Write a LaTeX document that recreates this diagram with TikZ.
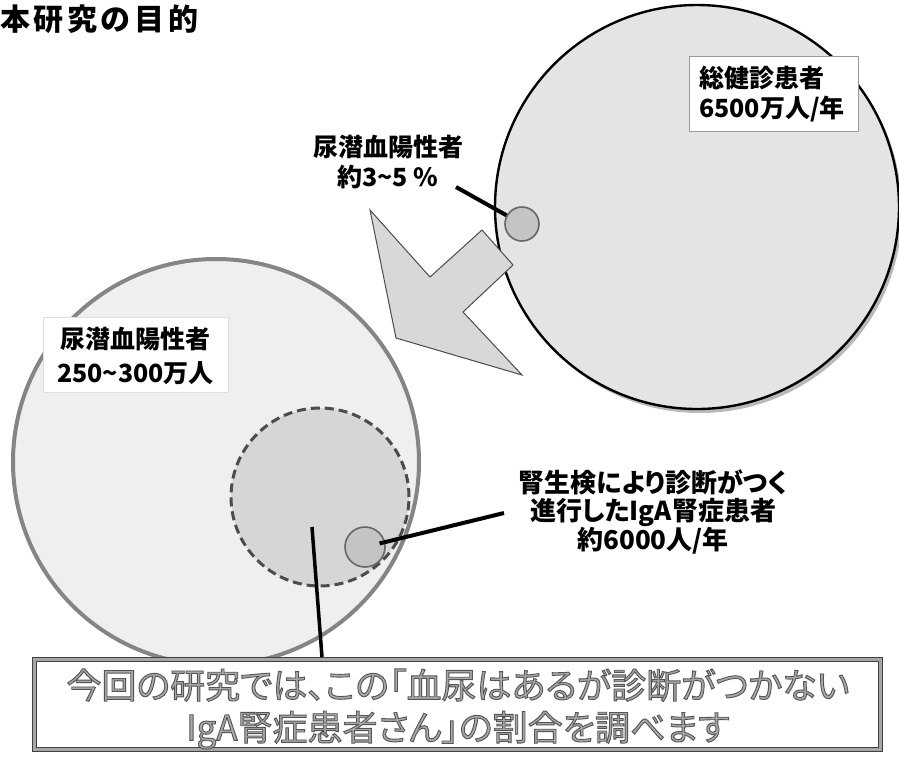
\documentclass[tikz,border=0pt]{standalone}
\usepackage{fontspec}
\newfontfamily\jp[RawFeature=+palt]{Noto Sans CJK JP}
\newfontfamily\jptitle[LetterSpace=12]{Noto Sans CJK JP}
\usetikzlibrary{shapes.geometric,calc}
\definecolor{fillR}{HTML}{E4E4E4}
\definecolor{fillL}{HTML}{EFEFEF}
\definecolor{edgeL}{HTML}{858585}
\definecolor{dashfill}{HTML}{D6D6D6}
\definecolor{smallfill}{HTML}{C4C4C4}
\definecolor{arrowfill}{HTML}{D8D8D8}
\definecolor{boxtext}{HTML}{A8A8A8}
\newcommand{\outlinetext}[1]{\special{pdf:literal direct 0.33 0.33 0.33 RG 0.9 w 2 Tr}#1\special{pdf:literal direct 0 Tr}}
\tikzset{
  labeltext/.style={font=\jp\bfseries\fontsize{25}{30}\selectfont, align=center, inner sep=0pt},
  labelbox/.style={fill=white, inner sep=0pt},
  smallcirc/.style={circle, fill=smallfill, draw=gray!80!black, line width=1.6pt, inner sep=0pt},
  lead/.style={line width=4pt, black},
  bigarrow/.style={fill=arrowfill, draw=black!70, line width=1pt, line join=miter},
}
\begin{document}
\begin{tikzpicture}[x=1pt,y=-1pt]
\useasboundingbox (0,0) rectangle (899,756);
\fill[white] (0,0) rectangle (899,756);

% title
\node[anchor=west, inner sep=0pt, font=\jptitle\bfseries\fontsize{30}{32}\selectfont] (title) at (0,19) {本研究の目的};

% right big circle (all health check-up patients)
\fill[gray!55] (700,211) circle [radius=202];
\node[circle, draw=black, line width=2.4pt, fill=fillR, minimum size=404pt, inner sep=0pt] (total) at (697,207) {};
\node[labelbox, draw=gray!80, line width=1pt, anchor=north west, minimum width=169pt, minimum height=75pt] (totalbox) at (689,56) {};
\node[labeltext, align=left, anchor=west] (totallbl) at (699,94) {総健診患者\\6500万人/年};

% left big circle (hematuria positive)
\node[circle, draw=edgeL, line width=4pt, fill=fillL, minimum size=406pt, inner sep=0pt] (hema) at (216,462) {};
\node[labelbox, draw=gray!25, line width=0.8pt, minimum width=185pt, minimum height=75pt] (hemabox) at (135.5,354.5) {};
\node[labeltext, font=\jp\bfseries\fontsize{25}{34}\selectfont] (hemalbl) at (135.5,356) {尿潜血陽性者\\250\textasciitilde300万人};

% dashed circle (undiagnosed IgA nephropathy)
\node[circle, draw=black!70, dash pattern=on 9pt off 5pt, line width=3pt, fill=dashfill, minimum size=178pt, inner sep=0pt] (undiag) at (320,497) {};

% small circle: diagnosed advanced IgA nephropathy
\node[smallcirc, minimum size=40pt] (diag) at (365,547) {};

% big arrow
\filldraw[bigarrow] (370,210) -- (430,277) -- (482,230) -- (513,265) -- (463,312) -- (522,375) -- (396,338) -- cycle;

% small circle on right big circle
\node[smallcirc, minimum size=34pt] (posR) at (522,224) {};

% labels
\node[labeltext] (poslbl) at (388,162) {尿潜血陽性者\\約3\textasciitilde5 \%};
\node[labeltext, font=\jp\bfseries\fontsize{26}{28}\selectfont] (diaglbl) at (653,512) {腎生検により診断がつく\\進行したIgA腎症患者\\約6000人/年};

% leader lines
\coordinate (a1) at (456,187);
\draw[lead] (a1) -- (posR);
\coordinate (b1) at (504,513);
\draw[lead, shorten >=15pt] (b1) -- (diag.center);

% bottom box
\node[draw=black!75, double=gray!70, double distance=3pt, line width=1pt, fill=white, minimum width=846pt, minimum height=90pt, inner sep=0pt] (goal) at (457.5,704.5) {};
\node[font=\jp\fontsize{35}{42}\selectfont, text=boxtext, align=center, inner sep=0pt] (goallbl) at (458,709) {\outlinetext{今回の研究では、この「血尿はあるが診断がつかない}\\\outlinetext{IgA腎症患者さん」の割合を調べます}};

\coordinate (c1) at (312,527);
\coordinate (c2) at (322,657);
\draw[lead, line width=3.5pt] (c1) -- (c2);
\end{tikzpicture}
\end{document}
